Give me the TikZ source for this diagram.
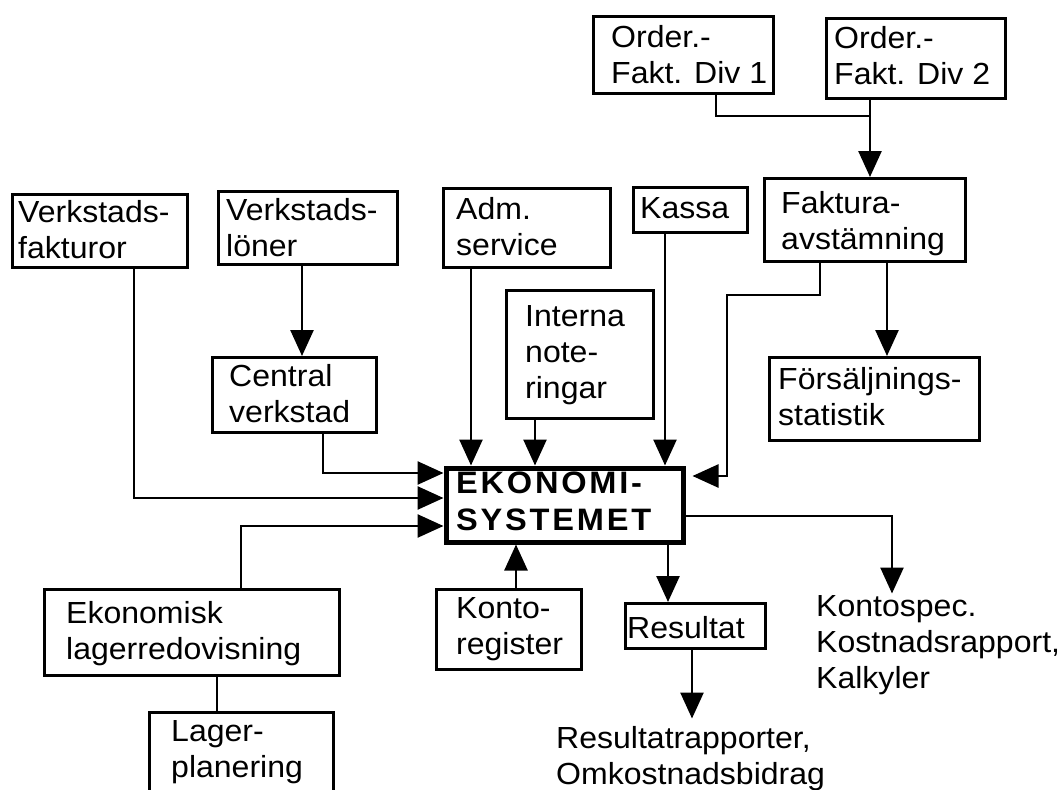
\documentclass[tikz,border=0pt]{standalone}
\usepackage{fontspec}
\setmainfont{Liberation Sans}[FakeStretch=1.05]
\usetikzlibrary{arrows.meta}
\begin{document}
\begin{tikzpicture}[x=1pt,y=-1pt,
  box/.style={draw, line width=2.6pt, inner sep=0pt, anchor=north west},
  txt/.style={inner sep=0pt, align=left, anchor=north west, font={\fontsize{30.5}{36}\selectfont}},
  conn/.style={line width=2.6pt},
  arr/.style={line width=2.6pt, -{Triangle[width=23pt 0 0,length=26pt 0 0]}},
]
\fill[white] (0,0) rectangle (1061,790);
\useasboundingbox (0,0) rectangle (1061,790);

% boxes
\node[box, minimum width=175pt, minimum height=73pt] (vf) at (11,193) {};
\node[box, minimum width=179pt, minimum height=73pt] (vl) at (217,190) {};
\node[box, minimum width=164pt, minimum height=75pt] (cv) at (211,356) {};
\node[box, minimum width=167pt, minimum height=79pt] (adm) at (442,187) {};
\node[box, minimum width=147pt, minimum height=128pt] (int) at (505,289) {};
\node[box, minimum width=114pt, minimum height=45pt] (kas) at (632,186) {};
\node[box, minimum width=201pt, minimum height=83pt] (fak) at (763,177) {};
\node[box, minimum width=180pt, minimum height=77pt] (od1) at (592,15) {};
\node[box, minimum width=179pt, minimum height=80pt] (od2) at (825,17) {};
\node[box, minimum width=210pt, minimum height=83pt] (fs) at (768,356) {};
\node[box, line width=5pt, minimum width=237pt, minimum height=74pt] (ek) at (443.5,465.5) {};
\node[box, minimum width=295pt, minimum height=86pt] (eko) at (43,588) {};
\node[box, minimum width=184pt, minimum height=90pt] (lag) at (148,711) {};
\node[box, minimum width=145pt, minimum height=80pt] (kon) at (435,588) {};
\node[box, minimum width=140pt, minimum height=45pt] (res) at (624,602) {};

% texts
\node[txt] (vf-t) at (18,200.5) {Verkstads-\\fakturor};
\node[txt] (vl-t) at (226,198.5) {Verkstads-\\löner};
\node[txt] (cv-t) at (229,364.5) {Central\\verkstad};
\node[txt] (adm-t) at (456,197.5) {Adm.\\service};
\node[txt] (int-t) at (525,305.5) {Interna\\note-\\ringar};
\node[txt] (kas-t) at (640,197.5) {Kassa};
\node[txt] (fak-t) at (781,191.5) {Faktura-\\avstämning};
\node[txt] (od1-t) at (611,25.5) {Order.-\\Fakt. Div 1};
\node[txt] (od2-t) at (834,26.5) {Order.-\\Fakt. Div 2};
\node[txt] (fs-t) at (778,367) {Försäljnings-\\statistik};
\node[txt, font={\fontsize{31}{37}\selectfont\bfseries\addfontfeatures{LetterSpace=9}}] (ek-t) at (456,471.5) {EKONOMI-\\SYSTEMET};
\node[txt] (eko-t) at (66,601.5) {Ekonomisk\\lagerredovisning};
\node[txt] (lag-t) at (171,720.5) {Lager-\\planering};
\node[txt] (kon-t) at (456,597.5) {Konto-\\register};
\node[txt] (res-t) at (627,616.5) {Resultat};
\node[txt] (ks-t) at (816,595.5) {Kontospec.\\Kostnadsrapport,\\Kalkyler};
\node[txt] (rr-t) at (556,726.5) {Resultatrapporter,\\Omkostnadsbidrag};

% helper coordinates
\coordinate (xa) at (716,0);
\coordinate (j1) at (870,116);
\coordinate (k1) at (820,0);
\coordinate (k2) at (727,295);
\coordinate (k3) at (0,476);
\coordinate (m1) at (887,0);
\coordinate (m2) at (665,0);
\coordinate (m3) at (471,0);
\coordinate (m4) at (535,0);
\coordinate (m5) at (302,0);
\coordinate (n1) at (323,473);
\coordinate (n2) at (134,498);
\coordinate (n3) at (241,526);
\coordinate (n4) at (516,0);
\coordinate (n5) at (668,0);
\coordinate (n6) at (692,0);
\coordinate (n7) at (892,516);
\coordinate (n8) at (217,0);

% connectors
\draw[conn] (od1.south -| xa) |- (j1);
\draw[arr] (od2.south -| j1) -- (fak.north -| j1);
\draw[arr, shorten >=7pt] (fak.south -| k1) |- (k2) |- (ek.east |- k3);
\draw[arr] (fak.south -| m1) -- (fs.north -| m1);
\draw[arr] (kas.south -| m2) -- (ek.north -| m2);
\draw[arr] (adm.south -| m3) -- (ek.north -| m3);
\draw[arr] (int.south -| m4) -- (ek.north -| m4);
\draw[arr] (vl.south -| m5) -- (cv.north -| m5);
\draw[arr] (cv.south -| n1) |- (ek.west |- n1);
\draw[arr] (vf.south -| n2) |- (ek.west |- n2);
\draw[arr] (eko.north -| n3) |- (ek.west |- n3);
\draw[arr] (kon.north -| n4) -- (ek.south -| n4);
\draw[arr] (ek.south -| n5) -- (res.north -| n5);
\draw[arr, shorten >=8pt] (res.south -| n6) -- (rr-t.north -| n6);
\draw[arr, shorten >=2pt] (ek.east |- n7) -| (ks-t.north -| n7);
\draw[conn] (eko.south -| n8) -- (lag.north -| n8);
\end{tikzpicture}
\end{document}
